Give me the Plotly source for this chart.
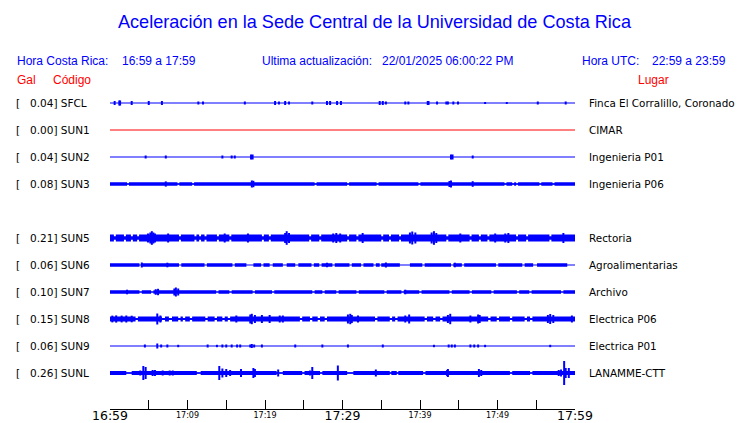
import plotly.graph_objects as go

# ---------------- data ----------------
stations = ["SFCL", "SUN1", "SUN2", "SUN3", "SUN5", "SUN6", "SUN7", "SUN8", "SUN9", "SUNL"]
gal_max = ["0.04", "0.00", "0.04", "0.08", "0.21", "0.06", "0.10", "0.15", "0.06", "0.26"]
places = ["Finca El Corralillo, Coronado", "CIMAR", "Ingenieria P01", "Ingenieria P06",
          "Rectoria", "Agroalimentarias", "Archivo", "Electrica P06", "Electrica P01", "LANAMME-CTT"]
rows = [0, 1, 2, 3, 5, 6, 7, 8, 9, 10]          # SUN4 slot is empty
trace_colors = ["#0000ff", "#ff0000"] + ["#0000ff"] * 8

# background noise level (display amplitude units) and level inside quiet gaps
band_level = [0, 0, 0, 1.8, 3.4, 1.7, 1.8, 2.6, 0, 2.0]
gap_level = [0, 0, 0, 0.8, 1.8, 0, 0.6, 1.0, 0, 0.8]

# quiet gaps (minutes after 16:59) : (start, end)
gaps = {
    "SUN3": [(2.2, 2.45), (8.7, 8.95), (10.6, 10.85), (26.4, 26.65), (30.6, 30.85), (34.4, 34.65),
             (39.8, 40.05), (50.9, 51.15), (51.9, 52.15), (52.4, 52.65), (55.4, 55.65), (57.1, 57.35)],
    "SUN5": [(0.5, 0.75), (1.8, 2.05), (2.7, 2.95), (3.5, 3.75), (8.9, 9.15), (10.9, 11.15),
             (11.5, 11.75), (12.2, 12.45), (13.8, 14.05), (15.4, 15.65), (19.6, 19.85), (20.5, 20.75),
             (25.7, 25.95), (27.0, 27.25), (30.6, 30.85), (31.8, 32.05), (35.0, 35.25), (36.0, 36.25),
             (37.3, 37.55), (43.4, 43.65), (46.4, 46.65), (47.6, 47.85), (48.7, 48.95), (52.4, 52.65),
             (53.7, 53.95), (56.7, 56.95)],
    "SUN6": [(3.8, 4.1), (8.9, 9.2), (12.2, 12.5), (15.8, 16.1), (17.6, 18.5), (19.5, 19.8),
             (20.6, 21.0), (22.3, 22.8), (23.9, 24.3), (26.0, 26.3), (27.0, 27.3), (28.7, 29.0),
             (30.9, 31.2), (32.4, 32.7), (34.0, 34.3), (34.8, 35.0), (37.4, 38.7), (40.3, 40.6),
             (44.0, 44.3), (45.4, 45.7), (49.8, 50.1), (53.2, 53.5), (54.6, 55.1), (59.0, 60.0)],
    "SUN7": [(3.8, 4.1), (5.3, 5.6), (13.7, 14.0), (15.4, 15.7), (18.4, 18.7), (20.9, 21.2),
             (26.1, 26.4), (27.4, 27.7), (29.2, 29.5), (31.8, 32.1), (35.4, 35.7), (37.6, 37.9),
             (39.9, 40.2), (43.8, 44.1), (46.4, 46.7), (49.2, 49.5), (52.5, 52.8), (54.1, 54.4),
             (58.2, 58.5)],
    "SUN8": [(3.3, 3.6), (6.7, 7.1), (7.6, 8.0), (8.8, 9.1), (9.4, 9.7), (10.3, 10.6), (12.3, 12.6),
             (13.5, 13.8), (14.5, 14.8), (15.2, 15.5), (24.5, 24.8), (25.8, 26.1), (26.8, 27.1),
             (27.7, 28.0), (34.2, 34.5), (36.1, 36.4), (36.8, 37.1), (40.6, 40.9), (41.7, 42.0),
             (42.6, 42.9), (48.8, 49.1), (49.9, 50.2), (51.6, 51.9), (53.5, 53.8), (54.2, 54.5)],
    "SUNL": [(2.1, 2.8), (11.2, 11.7), (21.5, 22.3), (24.8, 25.1), (27.1, 27.4), (30.6, 31.4),
             (36.1, 36.3), (37.0, 37.2), (40.4, 40.7), (51.6, 51.9), (54.2, 54.5)],
}

# bursts / spikes : (minute, half amplitude in display units)
events = {
    "SFCL": [(0.6, 2), (1.2, 2.5), (1.3, 2.5), (2.8, 2), (5.0, 2), (6.7, 2), (11.4, 1.5), (12.0, 1.5),
             (17.4, 1.5), (21.3, 2), (21.8, 1.5), (22.6, 2), (23.1, 1.5), (26.1, 1.5), (28.0, 2),
             (28.4, 2), (29.3, 2), (29.8, 2), (34.8, 2), (35.2, 2), (35.6, 1.5), (38.1, 1.5),
             (38.5, 1.5), (41.0, 2), (41.1, 2), (42.2, 1.5), (43.4, 1.5), (43.6, 1.5), (44.3, 1.5),
             (44.9, 1.5), (48.4, 1), (51.2, 1), (55.2, 1.5), (58.8, 1.5)],
    "SUN1": [],
    "SUN2": [(4.6, 1.5), (7.2, 1.5), (14.5, 1.5), (15.7, 1.5), (16.1, 1.5), (18.2, 2.5), (18.4, 2.5),
             (44.0, 2.5), (44.2, 2.5), (46.8, 1.5)],
    "SUN3": [(7.2, 2.6), (18.3, 3.5), (18.5, 3.2), (43.8, 3.0), (44.0, 3.5), (46.8, 2.8)],
    "SUN5": [(4.9, 4.5), (5.2, 5.5), (5.4, 6.8), (5.6, 5.5), (5.8, 4.5), (7.5, 4.5), (14.8, 4.5),
             (17.8, 4.5), (22.6, 5), (22.8, 6.8), (23.1, 5), (28.8, 4.5), (29.2, 5), (29.7, 4.5),
             (32.6, 5), (38.7, 5.5), (39.0, 6.5), (39.4, 5.5), (41.5, 5.5), (41.8, 6.8), (42.1, 5),
             (45.2, 4.5), (49.7, 4.5), (51.0, 4.5), (51.4, 5), (58.5, 5)],
    "SUN6": [(4.1, 2.5), (7.4, 2.3), (28.0, 2.3), (35.6, 2.5), (44.5, 2.3)],
    "SUN7": [(2.2, 2.3), (5.9, 2.8), (6.2, 3.2), (8.3, 3.5), (8.5, 4.5), (8.8, 3.5), (38.1, 2.3)],
    "SUN8": [(0.3, 3.4), (0.8, 3.6), (1.5, 3.4), (2.1, 3.5), (2.8, 3.3), (6.1, 5.5), (6.5, 3.5),
             (16.3, 3.5), (18.1, 4.5), (18.3, 5.2), (18.7, 4), (19.6, 4), (20.6, 4), (21.9, 3.5),
             (22.3, 3.5), (30.7, 4.5), (31.0, 5.2), (31.2, 4), (32.0, 3.5), (38.1, 3.5), (38.6, 4.5),
             (43.6, 4), (43.9, 5.2), (46.5, 3.5), (47.5, 4.5), (47.7, 4), (56.5, 4), (56.8, 5),
             (57.2, 4), (59.6, 3.5)],
    "SUN9": [(4.5, 1.5), (6.1, 2.5), (6.6, 1.5), (7.4, 1.5), (8.8, 1.2), (12.6, 1.5), (13.8, 1.2),
             (14.5, 1.5), (15.0, 1.5), (15.7, 1.5), (16.4, 1.5), (16.8, 1.5), (18.1, 1.5), (18.3, 2.0),
             (18.6, 1.5), (19.6, 1.5), (23.9, 1.5), (27.4, 1.5), (30.7, 1.5), (35.2, 1.5), (41.8, 1.2),
             (43.7, 1.5), (44.1, 1.5), (44.5, 1.5), (46.5, 1.5), (47.0, 1.5), (47.5, 1.5), (48.4, 1.2),
             (56.8, 1.2)],
    "SUNL": [(3.9, 2.5), (4.3, 7), (4.6, 6), (5.5, 3), (5.8, 3), (6.8, 2.5), (7.7, 2.5), (8.1, 2.5),
             (14.1, 7), (14.5, 4.5), (15.0, 4), (15.5, 3), (16.9, 4), (18.5, 5), (18.7, 4), (21.7, 3.5),
             (25.8, 2.5), (26.1, 6), (29.4, 7.5), (34.3, 3.5), (43.5, 3), (43.6, 4), (47.6, 4),
             (47.9, 3), (57.9, 3), (58.2, 3.5), (58.6, 12), (58.8, 5), (59.2, 5)],
}

tick_minutes = list(range(0, 61, 5))
major_labels = {0: "16:59", 30: "17:29", 60: "17:59"}
minor_labels = {10: "17:09", 20: "17:19", 40: "17:39", 50: "17:49"}

title = "Aceleración en la Sede Central de la Universidad de Costa Rica"
header = [("Hora Costa Rica:", 15), ("16:59 a 17:59", 120), ("Ultima actualización:", 260),
          ("22/01/2025 06:00:22 PM", 380), ("Hora UTC:", 580), ("22:59 a 23:59", 650)]
red_header = [("Gal", 15), ("Código", 51), ("Lugar", 636)]

# ---------------- layout geometry ----------------
W, H = 740, 423
L, R, T, B = 110, 165, 88, 14
PW, PH = W - L - R, H - T - B
ROW_PX = 27.0
FIRST_ROW_PX = 103.0
y_top = (T - FIRST_ROW_PX) / ROW_PX
y_bot = (H - B - FIRST_ROW_PX) / ROW_PX
AMP = 1.0 / ROW_PX  # display amplitude unit -> row units


def px_x(px):
    return (px - L) / PW


def px_y(py):
    return (H - B - py) / PH


BLUE = "#0000ff"
fig = go.Figure()


def rect_path(segs, r, a):
    xs, ys = [], []
    for t0, t1 in segs:
        xs += [t0, t1, t1, t0, t0, None]
        ys += [r - a, r - a, r + a, r + a, r - a, None]
    return xs, ys


for i, st in enumerate(stations):
    r = rows[i]
    col = trace_colors[i]
    fig.add_trace(go.Scatter(x=[0, 60], y=[r, r], mode="lines",
                             line=dict(color=col, width=1), hoverinfo="skip", showlegend=False))
    if band_level[i] > 0:
        if gap_level[i] > 0:
            xs, ys = rect_path([(0, 60)], r, gap_level[i] * AMP)
            fig.add_trace(go.Scatter(x=xs, y=ys, mode="lines", fill="toself", fillcolor=col,
                                     line=dict(width=0, color=col), hoverinfo="skip", showlegend=False))
        segs = []
        cur = 0.0
        for g0, g1 in sorted(gaps.get(st, [])):
            if g0 > cur:
                segs.append((cur, g0))
            cur = max(cur, g1)
        if cur < 60:
            segs.append((cur, 60))
        xs, ys = rect_path(segs, r, band_level[i] * AMP)
        fig.add_trace(go.Scatter(x=xs, y=ys, mode="lines", fill="toself", fillcolor=col,
                                 line=dict(width=0, color=col), hoverinfo="skip", showlegend=False))
    ev = events.get(st, [])
    if ev:
        xs, ys = [], []
        for t, a in ev:
            xs += [t, t, None]
            ys += [r - a * AMP, r + a * AMP, None]
        fig.add_trace(go.Scatter(x=xs, y=ys, mode="lines", line=dict(color=col, width=2),
                                 hoverinfo="skip", showlegend=False))

# invisible anchors so the label axes render
for ax in ("x2", "x3"):
    fig.add_trace(go.Scatter(x=[0], y=[-5], xaxis=ax, mode="markers", marker=dict(opacity=0),
                             hoverinfo="skip", showlegend=False))

ann = []
ann.append(dict(text=title, x=px_x(375), y=px_y(22), xref="paper", yref="paper",
                xanchor="center", yanchor="middle", showarrow=False,
                font=dict(family="Liberation Sans, Arial", size=18.1, color=BLUE)))
for txt, xp in header:
    ann.append(dict(text=txt, x=px_x(xp), y=px_y(61), xref="paper", yref="paper",
                    xanchor="left", yanchor="middle", showarrow=False,
                    font=dict(family="Liberation Sans, Arial", size=12, color=BLUE)))
for txt, xp in red_header:
    ann.append(dict(text=txt, x=px_x(xp), y=px_y(80), xref="paper", yref="paper",
                    xanchor="left", yanchor="middle", showarrow=False,
                    font=dict(family="Liberation Sans, Arial", size=12, color="#ff0000")))
for i, st in enumerate(stations):
    r = rows[i]
    ann.append(dict(text="[", x=px_x(14), y=r, xref="paper", yref="y", xanchor="left",
                    yanchor="middle", showarrow=False,
                    font=dict(family="DejaVu Sans", size=10.5, color="black")))
    ann.append(dict(text=f"{gal_max[i]}] {st}", x=px_x(28), y=r, xref="paper", yref="y",
                    xanchor="left", yanchor="middle", showarrow=False,
                    font=dict(family="DejaVu Sans", size=10.5, color="black")))
    ann.append(dict(text=places[i], x=px_x(587), y=r, xref="paper", yref="y", xanchor="left",
                    yanchor="middle", showarrow=False,
                    font=dict(family="DejaVu Sans", size=10.4, color="black")))

fig.update_layout(
    width=W, height=H,
    margin=dict(l=L, r=R, t=T, b=B, autoexpand=False),
    paper_bgcolor="white", plot_bgcolor="white",
    annotations=ann,
    xaxis=dict(range=[0, 60], tickmode="array", tickvals=tick_minutes,
               ticktext=["" for m in tick_minutes],
               ticks="inside", ticklen=9, tickwidth=1, tickcolor="black",
               showline=True, linecolor="black", linewidth=1, showgrid=False, zeroline=False,
               fixedrange=True),
    xaxis2=dict(range=[0, 60], overlaying="x", side="bottom", anchor="y",
                tickmode="array", tickvals=list(minor_labels.keys()),
                ticktext=list(minor_labels.values()), ticks="", showline=False,
                showgrid=False, zeroline=False,
                tickfont=dict(family="DejaVu Sans", size=8, color="black")),
    xaxis3=dict(range=[0, 60], overlaying="x", side="bottom", anchor="free", position=3.0 / PH,
                tickmode="array", tickvals=list(major_labels.keys()),
                ticktext=list(major_labels.values()), ticks="", showline=False,
                showgrid=False, zeroline=False,
                tickfont=dict(family="DejaVu Sans", size=12.5, color="black")),
    yaxis=dict(range=[y_bot, y_top], visible=False, showgrid=False, zeroline=False,
               fixedrange=True),
)

fig.write_html("out.html", config={"displayModeBar": False},
               post_script="document.body.style.margin='0';document.body.style.overflow='hidden';")
